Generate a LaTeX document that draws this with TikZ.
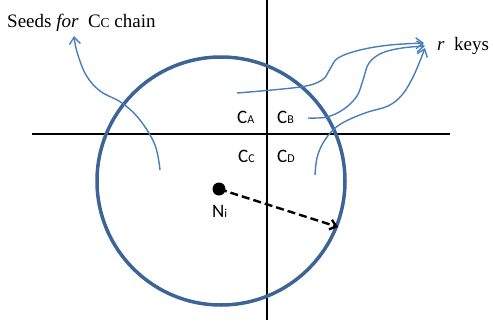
\documentclass[tikz,border=0pt]{standalone}
\usepackage{fontspec}
\setmainfont{Liberation Serif}
\newfontfamily\calib{Carlito}
\usetikzlibrary{arrows.meta}
\definecolor{circblue}{HTML}{3C6496}
\definecolor{arrblue}{HTML}{4A7EBB}
\newcommand\qlab[2]{{\calib\fontsize{19}{19}\selectfont #1\fontsize{12}{12}\selectfont #2}}
\begin{document}
\begin{tikzpicture}[x=1pt,y=-1pt,
  axis/.style={line width=1.8pt},
  ring/.style={draw=circblue,line width=3.5pt},
  keyarrow/.style={draw=arrblue,line width=1.4pt,-{Straight Barb[length=7pt,width=11pt]}},
  radarrow/.style={line width=2.4pt,dash pattern=on 8pt off 4pt,-{Straight Barb[length=6pt,width=10pt]}},
  lab/.style={inner sep=0pt,anchor=base west},
  bigtext/.style={font=\fontsize{19}{23}\selectfont}]
\useasboundingbox (0,0) rectangle (493,327);
% axes
\coordinate (hl) at (32,134); \coordinate (hr) at (450,134);
\coordinate (vt) at (267,0);  \coordinate (vb) at (267,320);
\draw[axis] (hl) -- (hr);
\draw[axis] (vt) -- (vb);
% circle
\draw[ring] (221,181) circle[radius=124pt];
% labels
\node[lab] (ca) at (237,123) {\qlab{C}{A}};
\node[lab] (cb) at (277,123) {\qlab{C}{B}};
\node[lab] (cc) at (238,162) {\qlab{C}{C}};
\node[lab] (cd) at (277,162) {\qlab{C}{D}};
\node[lab] (ni) at (212,217) {\qlab{N}{i}};
\node[lab,bigtext] (seeds) at (7,27) {Seeds \textit{for}\ \ C{\fontsize{13.5}{14}\selectfont C} chain};
\node[lab,bigtext] (rkeys) at (437,50) {\textit{r}\ \ keys};
% node and radius
\node[circle,fill=black,inner sep=0pt,minimum size=13pt] (dot) at (219,189) {};
\coordinate (rad) at (338,227);
\draw[radarrow] (dot.center) -- (rad);
% seeds arrow
\coordinate (s0) at (160,170); \coordinate (s1) at (74,36);
\draw[keyarrow] plot[smooth,tension=0.6] coordinates {(s0) (155,145) (140,120) (122,103) (100,91) (86,75) (77,52) (s1)};
% r keys arrows
\coordinate (k1s) at (237,93); \coordinate (k1e) at (424,43);
\coordinate (k2s) at (308,118); \coordinate (k2e) at (425,46);
\coordinate (k3s) at (315,175); \coordinate (k3e) at (425,48);
\draw[keyarrow] plot[smooth,tension=0.6] coordinates {(k1s) (300,87) (322,80) (330,69) (338,58) (360,50) (390,45) (k1e)};
\draw[keyarrow] plot[smooth,tension=0.6] coordinates {(k2s) (327,117) (344,109) (357,96) (363,80) (369,63) (382,53) (402,48) (k2e)};
\draw[keyarrow] plot[smooth,tension=0.6] coordinates {(k3s) (317,158) (323,143) (334,129) (348,120) (368,112) (388,106) (402,95) (414,75) (k3e)};
\end{tikzpicture}
\end{document}
